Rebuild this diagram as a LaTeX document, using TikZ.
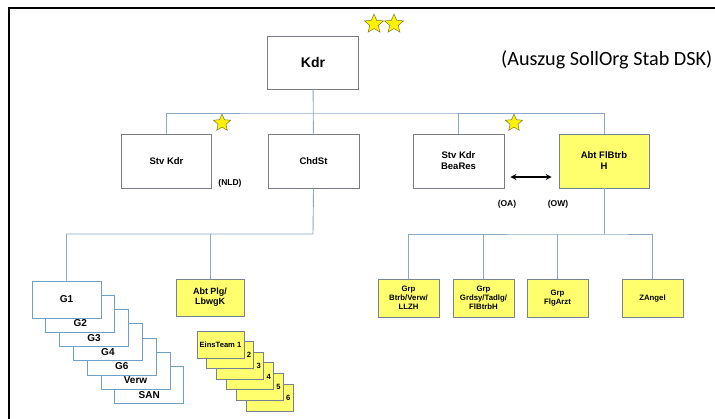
\documentclass[tikz,border=0pt]{standalone}
\usepackage{fontspec}
\setmainfont{Liberation Sans}
\newfontfamily\notefont{Carlito}
\usetikzlibrary{arrows,shapes.geometric}
\definecolor{boxgray}{RGB}{120,124,130}
\definecolor{boxblue}{RGB}{110,160,195}
\definecolor{linkblue}{RGB}{140,168,196}
\definecolor{boxyellow}{RGB}{255,255,110}
\definecolor{stardark}{RGB}{120,120,40}

\begin{document}
\begin{tikzpicture}[x=1pt,y=-1pt,
    box/.style={draw=boxgray, fill=white, line width=0.9pt, align=center, inner sep=1pt,
        minimum width=90pt, minimum height=54pt, font=\bfseries\fontsize{9.5}{11}\selectfont},
    ybox/.style={box, fill=boxyellow, draw=boxgray!80!boxblue},
    sbox/.style={ybox, minimum width=61pt, minimum height=38pt, font=\bfseries\fontsize{7.8}{9}\selectfont},
    gbox/.style={draw=boxblue, fill=white, line width=0.9pt, minimum width=69pt, minimum height=37pt},
    tbox/.style={draw=boxgray!80!boxblue, fill=boxyellow, line width=0.9pt, inner sep=1pt,
        minimum width=47pt, minimum height=27pt, font=\bfseries\fontsize{7.6}{8}\selectfont},
    glabel/.style={font=\bfseries\fontsize{10}{11}\selectfont, anchor=base},
    note/.style={font=\bfseries\fontsize{8.5}{9}\selectfont},
    rank/.style={star, star points=5, star point ratio=2.2, fill=yellow, draw=stardark,
        line width=0.5pt, inner sep=0pt},
    link/.style={draw=linkblue, line width=0.9pt}]
    \useasboundingbox (0,0) rectangle (715,418);
    % frame
    \draw[line width=1.6pt] (9,420) -- (9,8) -- (717,8);
    % top
    \node[box, minimum width=91pt, minimum height=53pt, font=\bfseries\fontsize{14}{16}\selectfont] (kdr) at (313,62.5) {Kdr};
    \node[rank, minimum size=20pt] (s1) at (374,24) {};
    \node[rank, minimum size=20pt] (s2) at (394,24) {};
    \node[anchor=west, inner sep=0pt, font=\notefont\fontsize{20.2}{22}\selectfont] (title) at (501,60) {(Auszug SollOrg Stab DSK)};
    % second row
    \node[box] (stv) at (166.5,161) {Stv Kdr};
    \node[box, minimum width=91pt] (chdst) at (313.5,161) {ChdSt};
    \node[box, minimum width=91pt] (bea) at (458.5,161) {Stv Kdr\\BeaRes};
    \node[ybox] (abtfl) at (604,161) {Abt FlBtrb\\H};
    \node[rank, minimum size=18pt] (s3) at (222,123) {};
    \node[rank, minimum size=18pt] (s4) at (514,123) {};
    \node[note] (nld) at (230,183) {(NLD)};
    \node[note] (oa) at (507,204) {(OA)};
    \node[note] (ow) at (558,204) {(OW)};
    \draw[<->, >=stealth, line width=1.6pt] ([shift={(6,16)}]bea.east) -- ([shift={(-7,16)}]abtfl.west);
    % third row
    \node[sbox] (grp1) at (408.5,298) {Grp\\Btrb/Verw/\\LLZH};
    \node[sbox] (grp2) at (483.5,298) {Grp\\Grdsy/Tadlg/\\FlBtrbH};
    \node[sbox] (grp3) at (557.5,298) {Grp\\FlgArzt};
    \node[sbox] (zangel) at (652.5,298) {ZAngel};
    \node[sbox, minimum width=68pt, minimum height=37pt, font=\bfseries\fontsize{9}{10}\selectfont] (abtplg) at (210,297.5) {Abt Plg/\\LbwgK};
    % G stack
    \foreach \i/\lab in {6/SAN,5/Verw,4/G6,3/G4,2/G3,1/G2} {
        \node[gbox] (g\i) at ({66.5+13.8*\i},{299.5+14.3*\i}) {};
        \node[glabel] at ([yshift=6pt]g\i.south) {\lab};
    }
    \node[gbox, font=\bfseries\fontsize{10}{11}\selectfont] (g0) at (66.5,299.5) {G1};
    % team stack
    \foreach \i in {6,5,...,1}
        \node[tbox] (t\i) at ({220.5+9.8*(\i-1)},{344.5+10.6*(\i-1)}) {EinsTeam \i};
    % connectors
    \coordinate (bus1) at (313,113);
    \coordinate (bus2) at (313,234);
    \coordinate (bus3) at (604,234);
    \draw[link] (kdr) -- (chdst);
    \draw[link] (stv.north) |- (bus1) -| (abtfl.north);
    \draw[link] (bea.north) -- (bea.north |- bus1);
    \draw[link] (chdst.south) -- (bus2) -| (g0.north);
    \draw[link] (abtplg.north) -- (abtplg.north |- bus2);
    \draw[link] (abtfl.south) -- (bus3);
    \draw[link] (grp1.north) |- (bus3) -| (zangel.north);
    \foreach \n in {grp2,grp3} \draw[link] (\n.north) -- (\n.north |- bus3);
\end{tikzpicture}
\end{document}
